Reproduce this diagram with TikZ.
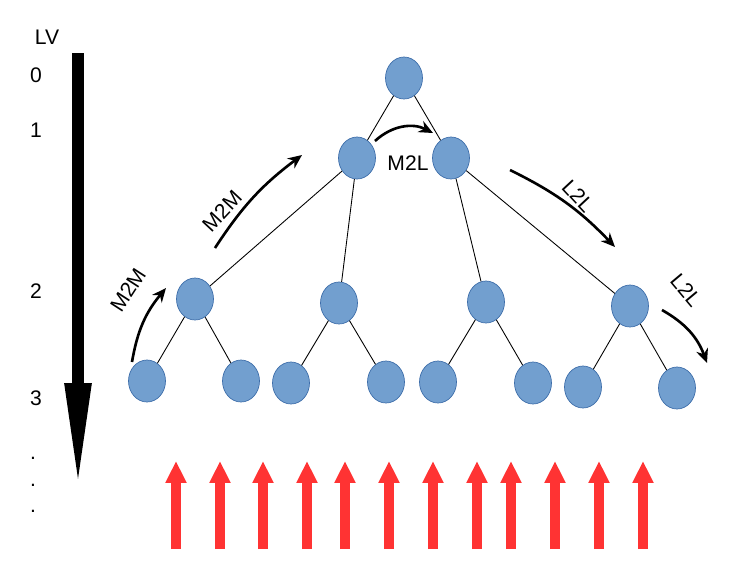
\documentclass[tikz,border=0pt]{standalone}
\usepackage{fontspec}
\setmainfont{Liberation Sans}
\usepackage{tikz}
\usetikzlibrary{shapes,arrows.meta}
\definecolor{cellfill}{RGB}{114,159,207}
\definecolor{cellline}{RGB}{62,110,170}
\definecolor{upred}{RGB}{255,51,51}

\begin{document}
\begin{tikzpicture}[x=0.02cm,y=-0.02cm]
		\useasboundingbox (0,0) rectangle (754,586);
		\begin{scope}
			[
				styleCell/.style={ellipse, draw=cellline, fill=cellfill,
					inner sep=0pt, minimum width=0.74cm, minimum height=0.84cm},
				styleText/.style={font=\fontsize{12}{14}\selectfont, inner sep=1pt},
			]
			\node(lv)[styleText] at (47,37) {LV};
			\node(lv0)[styleText] at (36,75) {0};
			\node(lv1)[styleText] at (36,130) {1};
			\node(lv2)[styleText] at (36,291) {2};
			\node(lv3)[styleText] at (36,398) {3};
			\node(dot1)[styleText] at (33,458) {.};
			\node(dot2)[styleText] at (33,485) {.};
			\node(dot3)[styleText] at (33,511) {.};

			\node(n0)[styleCell] at (404,78) {};

			\node(n11)[styleCell] at (357,158) {};
			\node(n12)[styleCell] at (451,158) {};

			\node(n21)[styleCell] at (195,299) {};
			\node(n22)[styleCell] at (339,303) {};
			\node(n23)[styleCell] at (486,302) {};
			\node(n24)[styleCell] at (630,306) {};

			\node(n31)[styleCell] at (147,381) {};
			\node(n32)[styleCell] at (241,381) {};
			\node(n33)[styleCell] at (291,383) {};
			\node(n34)[styleCell] at (386,382) {};
			\node(n35)[styleCell] at (438,382) {};
			\node(n36)[styleCell] at (533,383) {};
			\node(n37)[styleCell] at (583,387) {};
			\node(n38)[styleCell] at (677,388) {};

			\node(m2l)[styleText] at (408,163) {M2L};
			\node(m2mA)[styleText, rotate=47] at (222,211) {M2M};
			\node(m2mB)[styleText, rotate=57] at (128,290) {M2M};
			\node(l2lA)[styleText, rotate=-47] at (578,196) {L2L};
			\node(l2lB)[styleText, rotate=-50] at (686,290) {L2L};

			\coordinate(lvtop) at (78,53);
			\coordinate(lvtip) at (78,492);
			\coordinate(m2lS) at (375,141);
			\coordinate(m2lE) at (433,133);
			\coordinate(m2mAS) at (215,248);
			\coordinate(m2mAE) at (302,155);
			\coordinate(m2mBS) at (132,362);
			\coordinate(m2mBE) at (166,288);
			\coordinate(l2lAS) at (510,170);
			\coordinate(l2lAE) at (615,247);
			\coordinate(l2lBS) at (662,310);
			\coordinate(l2lBE) at (707,363);
		\end{scope}

		\begin{scope}
			[ tree/.style = {draw, line width=0.5pt},
				flow/.style = {draw, line width=1.5pt, -{Stealth[length=8pt, width=7pt]}},
				level/.style = {draw, line width=6.8pt, -{Triangle[length=62pt, width=13.6pt]}},
				upArrow/.style = {draw=upred, line width=5.7pt, -{Triangle[length=12.5pt, width=11.3pt]}}]
			\path
			(n0) edge[tree]                  (n11)
			(n0) edge[tree]                  (n12)
			(n11) edge[tree]                 (n21)
			(n11) edge[tree]                 (n22)
			(n12) edge[tree]                 (n23)
			(n12) edge[tree]                 (n24)
			(n21) edge[tree]                 (n31)
			(n21) edge[tree]                 (n32)
			(n22) edge[tree]                 (n33)
			(n22) edge[tree]                 (n34)
			(n23) edge[tree]                 (n35)
			(n23) edge[tree]                 (n36)
			(n24) edge[tree]                 (n37)
			(n24) edge[tree]                 (n38)

			(lvtop) edge[level]              (lvtip)
			(m2lS) edge[flow, bend left=35]  (m2lE)
			(m2mAS) edge[flow, bend left=10] (m2mAE)
			(m2mBS) edge[flow, bend left=15] (m2mBE)
			(l2lAS) edge[flow, bend left=10] (l2lAE)
			(l2lBS) edge[flow, bend left=20] (l2lBE);

			\foreach \x in {176,220,263,307,345,389,433,477,511,555,599,643}
				\draw[upArrow] (\x,549) -- (\x,461);
		\end{scope}
	\end{tikzpicture}
\end{document}
